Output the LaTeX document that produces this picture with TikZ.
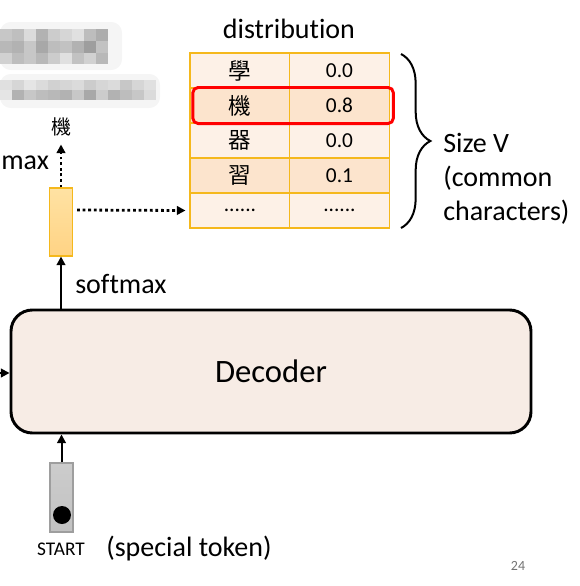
\documentclass[tikz,border=0pt]{standalone}
\usepackage{fontspec}
\setmainfont{Carlito}[Ligatures=NoCommon]
\newfontfamily\cjk{Noto Sans CJK TC}
\usetikzlibrary{arrows.meta,decorations.pathreplacing,fit,calc}
\definecolor{tbord}{HTML}{F5B81C}
\definecolor{rowA}{HTML}{FDF1E7}
\definecolor{rowB}{HTML}{FCE4CD}
\definecolor{decfill}{HTML}{F7ECE5}
\definecolor{otop}{HTML}{FFE2A3}
\definecolor{obot}{HTML}{FFD384}
\tikzset{
  cell/.style={draw=tbord, line width=0.8pt, minimum width=75pt, minimum height=26.25pt, inner sep=0pt, font=\fontsize{16}{18}\selectfont},
  cjkcell/.style={cell, font=\cjk\fontsize{17}{19}\selectfont},
  arr/.style={line width=1.5pt, -{Triangle[length=6.5pt,width=6.5pt]}},
  dotarr/.style={line width=2.1pt, dash pattern=on 2.1pt off 2.1pt, -{Triangle[length=6.5pt,width=6.5pt]}},
  lbl/.style={font=\fontsize{21}{25}\selectfont, inner sep=0pt},
}
\begin{document}
\begin{tikzpicture}[x=0.75pt,y=-0.75pt]
\useasboundingbox (0,0) rectangle (580,586);
% blurred text
\fill[black!4, rounded corners=8pt] (0,22) rectangle (122,70);
\fill[black!4, rounded corners=8pt] (0,74) rectangle (160,108);
\foreach \c/\g in {0/22,1/25,2/14,3/30,4/20,5/16,6/12,7/26,8/32}
  \fill[black!\g] (\c*12,29) rectangle (\c*12+12,41);
\foreach \c/\g in {0/28,1/30,2/22,3/34,4/26,5/24,6/30,7/38,8/24}
  \fill[black!\g] (\c*12,41) rectangle (\c*12+12,53);
\foreach \c/\g in {0/18,1/26,2/22,3/28,4/20,5/12,6/24,7/18,8/28}
  \fill[black!\g] (\c*12,53) rectangle (\c*12+12,64);
\foreach \c/\g in {0/12,1/16,2/10,3/14,4/18,5/16,6/14,7/20,8/16,9/14,10/22,11/16,12/12}
  \fill[black!\g] (\c*12,80) rectangle (\c*12+12,90);
\foreach \c/\g in {0/10,1/30,2/22,3/26,4/28,5/30,6/22,7/34,8/20,9/30,10/26,11/22,12/14}
  \fill[black!\g] (\c*12,90) rectangle (\c*12+12,100);

% title
\node[lbl] (dist) at (289,29) {distribution};

% table
\node[cjkcell, fill=rowA] (c11) at (240,70.5) {學};
\node[cell, fill=rowA] (c12) at (339.5,70.5) {0.0};
\node[cjkcell, fill=rowB] (c21) at (240,105.5) {機};
\node[cell, fill=rowB] (c22) at (339.5,105.5) {0.8};
\node[cjkcell, fill=rowA] (c31) at (240,140.5) {器};
\node[cell, fill=rowA] (c32) at (339.5,140.5) {0.0};
\node[cjkcell, fill=rowB] (c41) at (240,175.5) {習};
\node[cell, fill=rowB] (c42) at (339.5,175.5) {0.1};
\node[cell, fill=rowA] (c51) at (240,210.5) {......};
\node[cell, fill=rowA] (c52) at (339.5,210.5) {......};
\node[draw=red, line width=2.2pt, rounded corners=4pt, inner sep=0pt, fit=(c21)(c22), xshift=2.5pt, minimum height=25pt] (sel) {};

% brace
\draw[line width=1.5pt, decorate, decoration={brace, amplitude=22pt}] (401,54) -- (401,228);
\node[lbl, anchor=west, align=left] (size) at (443,143) {Size V};
\node[lbl, anchor=west] (common) at (443,178) {(common};
\node[lbl, anchor=west] (chars) at (443,212) {characters)};

% orange vector
\node[draw=tbord, line width=0.8pt, top color=otop, bottom color=obot, minimum width=17.25pt, minimum height=51pt, inner sep=0pt] (vec) at (61,222) {};
\node[font=\cjk\fontsize{15}{17}\selectfont, inner sep=0pt] (out) at (61,127) {機};
\node[lbl, anchor=west] (max) at (1,163) {max};
\draw[dotarr] (vec.north) -- ([yshift=-6pt]out.south);
\draw[dotarr] ($(vec.east)+(4,-12)$) -- ([xshift=-3pt]c51.west);

% decoder
\node[draw=black, line width=2.2pt, fill=decfill, rounded corners=16pt, minimum width=390pt, minimum height=92.25pt, inner sep=0pt, font=\fontsize{24.5}{28}\selectfont] (dec) at (271,371.5) {Decoder};
\node[lbl, anchor=west] (soft) at (75,284) {softmax};
\draw[arr] (dec.north -| vec.south) -- (vec.south);
\coordinate (inL) at (0,373);
\draw[arr] (inL) -- (dec.west |- inL);

% start token
\node[draw=black!38, line width=0.8pt, top color=black!20, bottom color=black!24, minimum width=17.25pt, minimum height=51.75pt, inner sep=0pt] (start) at (61.5,497.5) {};
\node[circle, fill=black, minimum size=13.5pt, inner sep=0pt] (dot) at (62,515) {};
\draw[arr] (start.north) -- (dec.south -| start.north);
\node[font=\fontsize{14.5}{17}\selectfont, inner sep=0pt] (stl) at (61,549) {START};
\node[lbl, anchor=west] (spec) at (106,549) {(special token)};

% page number
\node[font=\fontsize{10.5}{12}\selectfont, text=black!55, inner sep=0pt] (pg) at (518,566) {24};
\end{tikzpicture}
\end{document}
